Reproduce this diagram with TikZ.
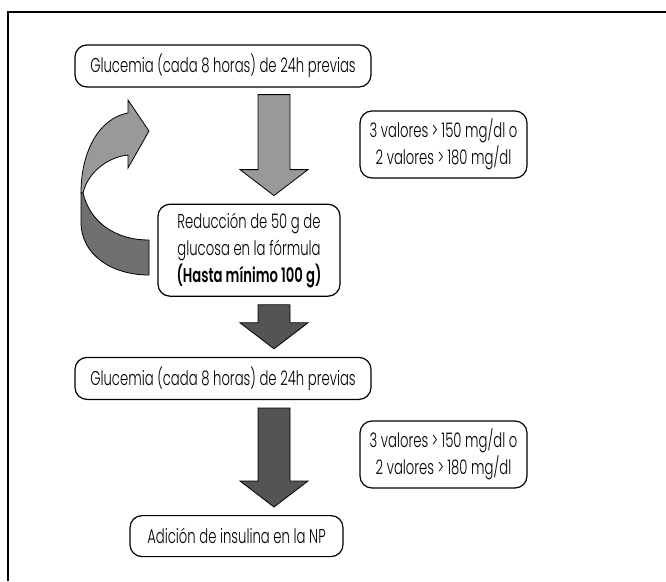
\documentclass[tikz,border=0pt]{standalone}
\usepackage{fontspec}
\setmainfont{Poppins}[UprightFont=* Light, BoldFont=* SemiBold, FakeStretch=0.66]
\usepackage{tikz}
\usetikzlibrary{positioning, calc}

\definecolor{lightarrow}{gray}{0.60}
\definecolor{darkarrow}{gray}{0.33}
\definecolor{curvelight}{gray}{0.60}
\definecolor{curvedark}{gray}{0.44}

\tikzset{
    stepbox/.style={draw, rounded corners=12pt, line width=1.2pt, align=center,
        inner sep=0pt, font=\fontsize{20}{27}\selectfont},
    fat arrow/.style={draw, line width=0.8pt, to path={
        ($(\tikztostart)+(-16pt,0)$) -- ($(\tikztostart)+(16pt,0)$)
        -- ($(\tikztotarget)+(16pt,26pt)$) -- ($(\tikztotarget)+(34pt,26pt)$)
        -- (\tikztotarget) -- ($(\tikztotarget)+(-34pt,26pt)$)
        -- ($(\tikztotarget)+(-16pt,26pt)$) -- cycle}}
}

\begin{document}
\begin{tikzpicture}[x=1pt, y=-1pt]
    \useasboundingbox (0,0) rectangle (666,581);

    % frame
    \draw[line width=2.5pt] (8,581) -- (8,12) -- (666,12);

    % main column
    \node[stepbox, minimum width=296pt, minimum height=42pt] (glu1) at (223,66)
        {Glucemia (cada 8 horas) de 24h previas};
    \node[stepbox, minimum width=182pt, minimum height=92pt, below=116pt of glu1, xshift=26pt] (red)
        {Reducción de 50 g de\\glucosa en la fórmula\\\textbf{(Hasta mínimo 100 g)}};
    \node[stepbox, minimum width=296pt, minimum height=42pt, below=60pt of red, xshift=-26pt] (glu2)
        {Glucemia (cada 8 horas) de 24h previas};
    \node[stepbox, minimum width=213pt, minimum height=41pt, below=115pt of glu2, xshift=13.5pt] (ins)
        {Adición de insulina en la NP};

    % conditions
    \node[stepbox, minimum width=167pt, minimum height=67pt] (val1) at (443.5,144.5)
        {3 valores\,>\,150 mg/dl o\\2 valores\,>\,180 mg/dl};
    \node[stepbox, minimum width=167pt, minimum height=67pt] (val2) at (443.5,454.5)
        {3 valores\,>\,150 mg/dl o\\2 valores\,>\,180 mg/dl};

    % block arrows
    \coordinate (axis) at (274,0);
    \draw[fat arrow, fill=lightarrow] ([yshift=-7pt]glu1.south -| axis) to ([yshift=8pt]red.north -| axis);
    \draw[fat arrow, fill=darkarrow] ([yshift=-8pt]red.south -| axis) to ([yshift=8pt]glu2.north -| axis);
    \draw[fat arrow, fill=darkarrow] ([yshift=-8pt]glu2.south -| axis) to ([yshift=8pt]ins.north -| axis);

    % curved return arrow
    \filldraw[fill=curvelight, line width=0.8pt] (81,193) .. controls (81,150) and (100,118) .. (128,113)
        -- (128,100) -- (149,131) -- (128,168) -- (128,155)
        .. controls (108,157) and (88,172) .. (83,193) -- cycle;
    \filldraw[fill=curvedark, line width=0.8pt] (81,193) -- (81,222) .. controls (81,255) and (112,275) .. (149,275)
        -- (149,240) .. controls (115,240) and (90,222) .. (83,193) -- cycle;

\end{tikzpicture}
\end{document}
